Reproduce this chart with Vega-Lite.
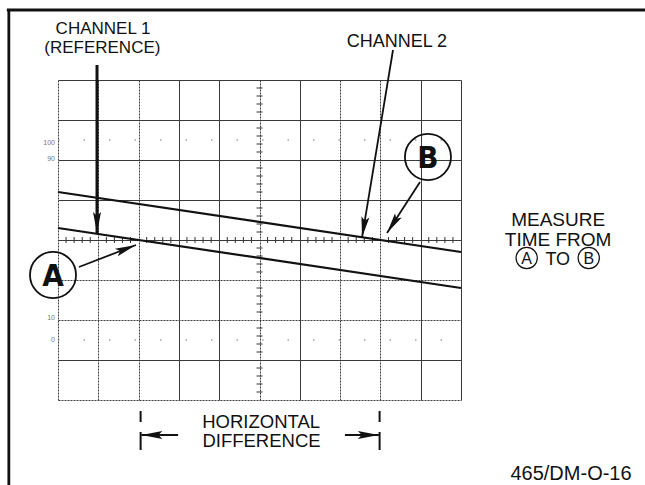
{
  "$schema": "https://vega.github.io/schema/vega-lite/v6.json",
  "width": 403,
  "height": 320,
  "autosize": {"type": "none"},
  "padding": {"left": 58, "top": 80, "right": 184, "bottom": 85},
  "background": "white",
  "config": {"view": {"stroke": null}},
  "datasets": {
    "traces": [
      {"ch": "Channel 2", "x": 0, "y": 1.2}, {"ch": "Channel 2", "x": 10, "y": -0.3},
      {"ch": "Channel 1", "x": 0, "y": 0.3}, {"ch": "Channel 1", "x": 10, "y": -1.2}
    ],
    "hticks": [
      {"x": 0.2, "y": 0}, {"x": 0.4, "y": 0}, {"x": 0.6, "y": 0}, {"x": 0.8, "y": 0},
      {"x": 1.2, "y": 0}, {"x": 1.4, "y": 0}, {"x": 1.6, "y": 0}, {"x": 1.8, "y": 0},
      {"x": 2.2, "y": 0}, {"x": 2.4, "y": 0}, {"x": 2.6, "y": 0}, {"x": 2.8, "y": 0},
      {"x": 3.2, "y": 0}, {"x": 3.4, "y": 0}, {"x": 3.6, "y": 0}, {"x": 3.8, "y": 0},
      {"x": 4.2, "y": 0}, {"x": 4.4, "y": 0}, {"x": 4.6, "y": 0}, {"x": 4.8, "y": 0},
      {"x": 5.2, "y": 0}, {"x": 5.4, "y": 0}, {"x": 5.6, "y": 0}, {"x": 5.8, "y": 0},
      {"x": 6.2, "y": 0}, {"x": 6.4, "y": 0}, {"x": 6.6, "y": 0}, {"x": 6.8, "y": 0},
      {"x": 7.2, "y": 0}, {"x": 7.4, "y": 0}, {"x": 7.6, "y": 0}, {"x": 7.8, "y": 0},
      {"x": 8.2, "y": 0}, {"x": 8.4, "y": 0}, {"x": 8.6, "y": 0}, {"x": 8.8, "y": 0},
      {"x": 9.2, "y": 0}, {"x": 9.4, "y": 0}, {"x": 9.6, "y": 0}, {"x": 9.8, "y": 0}
    ],
    "vticks": [
      {"x": 5, "y": -3.8}, {"x": 5, "y": -3.6}, {"x": 5, "y": -3.4}, {"x": 5, "y": -3.2},
      {"x": 5, "y": -2.8}, {"x": 5, "y": -2.6}, {"x": 5, "y": -2.4}, {"x": 5, "y": -2.2},
      {"x": 5, "y": -1.8}, {"x": 5, "y": -1.6}, {"x": 5, "y": -1.4}, {"x": 5, "y": -1.2},
      {"x": 5, "y": -0.8}, {"x": 5, "y": -0.6}, {"x": 5, "y": -0.4}, {"x": 5, "y": -0.2},
      {"x": 5, "y": 0.2}, {"x": 5, "y": 0.4}, {"x": 5, "y": 0.6}, {"x": 5, "y": 0.8},
      {"x": 5, "y": 1.2}, {"x": 5, "y": 1.4}, {"x": 5, "y": 1.6}, {"x": 5, "y": 1.8},
      {"x": 5, "y": 2.2}, {"x": 5, "y": 2.4}, {"x": 5, "y": 2.6}, {"x": 5, "y": 2.8},
      {"x": 5, "y": 3.2}, {"x": 5, "y": 3.4}, {"x": 5, "y": 3.6}, {"x": 5, "y": 3.8}
    ],
    "dotlines": [
      {"x": 0, "x2": 10, "y": 2.5, "y2": 2.5},
      {"x": 0, "x2": 10, "y": -2.5, "y2": -2.5}
    ],
    "frame": [
      {"x": -1.27, "x2": 14.6, "y": 5.75, "y2": 5.75},
      {"x": -1.22, "x2": -1.22, "y": 5.75, "y2": -6.2}
    ],
    "arrows": [
      {"name": "ch1", "x": 0.968, "y": 4.375, "x2": 0.968, "y2": 0.175},
      {"name": "ch2", "x": 8.313, "y": 4.75, "x2": 7.543, "y2": 0.06},
      {"name": "B", "x": 8.983, "y": 1.45, "x2": 8.164, "y2": 0.175},
      {"name": "A", "x": 0.52, "y": -0.675, "x2": 1.935, "y2": -0.125},
      {"name": "left", "x": 2.98, "y": -4.875, "x2": 2.07, "y2": -4.875},
      {"name": "right", "x": 7.12, "y": -4.875, "x2": 7.96, "y2": -4.875}
    ],
    "dims": [
      {"x": 2.05, "y": -4.275, "y2": -4.55},
      {"x": 2.05, "y": -4.8, "y2": -5.25},
      {"x": 7.98, "y": -4.275, "y2": -4.55},
      {"x": 7.98, "y": -4.8, "y2": -5.25}
    ],
    "bigcircles": [
      {"label": "A", "x": -0.124, "y": -0.875},
      {"label": "B", "x": 9.18, "y": 2.075}
    ],
    "smallcircles": [
      {"label": "A", "x": 11.63, "y": -0.45},
      {"label": "B", "x": 13.17, "y": -0.45}
    ],
    "labels": [
      {"text": "CHANNEL 1", "x": 1.117, "y": 5.15},
      {"text": "(REFERENCE)", "x": 1.1, "y": 4.675},
      {"text": "CHANNEL 2", "x": 8.41, "y": 4.825},
      {"text": "MEASURE", "x": 12.41, "y": 0.35},
      {"text": "TIME FROM", "x": 12.41, "y": -0.15},
      {"text": "HORIZONTAL", "x": 5.04, "y": -4.7},
      {"text": "DIFFERENCE", "x": 5.05, "y": -5.175}
    ],
    "to": [
      {"text": "TO", "x": 12.4, "y": -0.625}
    ],
    "footer": [
      {"text": "465/DM-O-16", "x": 12.73, "y": -5.99}
    ],
    "pct": [
      {"text": "100", "x": -0.075, "y": 2.425},
      {"text": "90", "x": -0.075, "y": 2.025},
      {"text": "10", "x": -0.075, "y": -1.95},
      {"text": "0", "x": -0.075, "y": -2.5}
    ]
  },
  "encoding": {
    "x": {
      "field": "x", "type": "quantitative",
      "scale": {"domain": [0, 10], "nice": false, "zero": false},
      "axis": {
        "values": [0, 1, 2, 3, 4, 5, 6, 7, 8, 9, 10],
        "grid": true, "gridColor": "#3a3a3a", "gridWidth": 1,
        "gridDash": {"condition": {"test": "indexof([0, 1, 2, 5, 7, 8], datum.value) >= 0", "value": [2, 1]}, "value": []},
        "labels": false, "ticks": false, "domain": false, "title": null
      }
    },
    "y": {
      "field": "y", "type": "quantitative",
      "scale": {"domain": [-4, 4], "nice": false, "zero": false},
      "axis": {
        "values": [-4, -3, -2, -1, 0, 1, 2, 3, 4],
        "grid": true, "gridColor": "#3a3a3a", "gridWidth": 1,
        "gridDash": {"condition": {"test": "indexof([-1, -2, -4], datum.value) >= 0", "value": [2, 1]}, "value": []},
        "labels": false, "ticks": false, "domain": false, "title": null
      }
    }
  },
  "layer": [
    {
      "data": {"name": "dotlines"},
      "mark": {"type": "rule", "color": "#777", "strokeWidth": 1.2, "strokeDash": [1.5, 24]},
      "encoding": {"x2": {"field": "x2"}, "y2": {"field": "y2"}}
    },
    {
      "data": {"name": "hticks"},
      "mark": {"type": "tick", "orient": "vertical", "size": 6, "thickness": 1, "color": "#333", "opacity": 1}
    },
    {
      "data": {"name": "vticks"},
      "mark": {"type": "tick", "orient": "horizontal", "size": 6, "thickness": 1, "color": "#333", "opacity": 1}
    },
    {
      "data": {"name": "traces"},
      "mark": {"type": "line", "color": "#111", "strokeWidth": 2.2},
      "encoding": {"detail": {"field": "ch"}}
    },
    {
      "data": {"name": "frame"},
      "mark": {"type": "rule", "color": "#111", "strokeWidth": 2.8},
      "encoding": {"x2": {"field": "x2"}, "y2": {"field": "y2"}}
    },
    {
      "data": {"name": "arrows"},
      "mark": {"type": "rule", "color": "#111"},
      "encoding": {
        "x2": {"field": "x2"}, "y2": {"field": "y2"},
        "strokeWidth": {"condition": {"test": "datum.name === 'ch1'", "value": 3}, "value": 1.8}
      }
    },
    {
      "data": {"name": "arrows"},
      "mark": {"type": "point", "shape": "M0,0L0.4,2.1L0,1.7L-0.4,2.1Z", "filled": true, "color": "#111", "opacity": 1, "size": 400, "strokeWidth": 0},
      "encoding": {
        "x": {"field": "x2", "type": "quantitative", "title": null},
        "y": {"field": "y2", "type": "quantitative", "title": null},
        "angle": {
          "condition": [
            {"test": "datum.name === 'ch1'", "value": 180},
            {"test": "datum.name === 'ch2'", "value": 189.4},
            {"test": "datum.name === 'B'", "value": 212.9},
            {"test": "datum.name === 'A'", "value": 69.1},
            {"test": "datum.name === 'left'", "value": 270}
          ],
          "value": 90
        }
      }
    },
    {
      "data": {"name": "dims"},
      "mark": {"type": "rule", "color": "#111", "strokeWidth": 2},
      "encoding": {"y2": {"field": "y2"}}
    },
    {
      "data": {"name": "bigcircles"},
      "mark": {"type": "point", "shape": "circle", "filled": false, "color": "#111", "strokeWidth": 1.8, "size": 2124, "opacity": 1}
    },
    {
      "data": {"name": "bigcircles"},
      "mark": {"type": "text", "font": "Liberation Sans Narrow, DejaVu Sans Condensed, Liberation Sans", "fontWeight": "bold", "fontSize": 31, "align": "center", "baseline": "alphabetic", "dy": 11, "color": "#111"},
      "encoding": {"text": {"field": "label"}}
    },
    {
      "data": {"name": "smallcircles"},
      "mark": {"type": "point", "shape": "circle", "filled": false, "color": "#111", "strokeWidth": 1.2, "size": 452, "opacity": 1}
    },
    {
      "data": {"name": "smallcircles"},
      "mark": {"type": "text", "font": "Liberation Sans", "fontSize": 16, "align": "center", "baseline": "alphabetic", "dy": 6, "color": "#111"},
      "encoding": {"text": {"field": "label"}}
    },
    {
      "data": {"name": "labels"},
      "mark": {"type": "text", "font": "Liberation Sans", "align": "center", "baseline": "alphabetic", "color": "#111"},
      "encoding": {
        "text": {"field": "text"},
        "size": {
          "condition": [
            {"test": "datum.text === 'MEASURE' || datum.text === 'TIME FROM'", "value": 19},
            {"test": "datum.text === 'HORIZONTAL' || datum.text === 'DIFFERENCE'", "value": 18.5},
            {"test": "datum.text === 'CHANNEL 2'", "value": 18}
          ],
          "value": 17
        }
      }
    },
    {
      "data": {"name": "to"},
      "mark": {"type": "text", "font": "Liberation Sans", "fontSize": 18, "align": "center", "baseline": "alphabetic", "color": "#111"},
      "encoding": {"text": {"field": "text"}}
    },
    {
      "data": {"name": "footer"},
      "mark": {"type": "text", "font": "Liberation Sans", "fontSize": 20, "align": "center", "baseline": "alphabetic", "color": "#111"},
      "encoding": {"text": {"field": "text"}}
    },
    {
      "data": {"name": "pct"},
      "mark": {"type": "text", "font": "Liberation Sans", "fontSize": 7, "align": "right", "baseline": "middle", "color": "#777"},
      "encoding": {"text": {"field": "text"}}
    }
  ]
}
